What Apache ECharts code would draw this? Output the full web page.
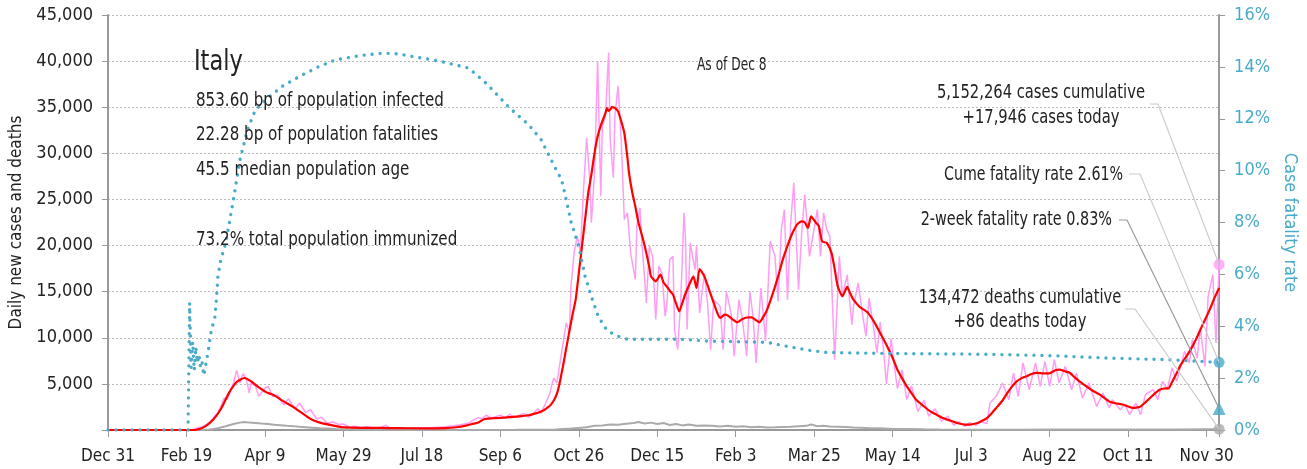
<!DOCTYPE html>
<html>
<head>
<meta charset="utf-8">
<script src="https://cdn.jsdelivr.net/npm/echarts@6/dist/echarts.min.js"></script>
<style>
html, body { margin: 0; padding: 0; background: #fff; }
#chart { width: 1307px; height: 469px; }
</style>
</head>
<body>
<div id="chart"></div>
<script>
// x values are days since Dec 31, 2019
const tickLabels = ['Dec 31', 'Feb 19', 'Apr 9', 'May 29', 'Jul 18', 'Sep 6', 'Oct 26', 'Dec 15',
    'Feb 3', 'Mar 25', 'May 14', 'Jul 3', 'Aug 22', 'Oct 11', 'Nov 30'];
const lastDay = 708;

// daily new cases (pink)
const dailyCases = [[0,0],[53,0],[55,80],[57,230],[59,300],[61,450],[63,600],[65,900],[66,950],[68,1500],[70,1800],
    [71,2200],[73,3000],[74,3470],[76,3300],[78,4300],[80,5100],[82,6460],[84,5100],[86,6100],[88,5600],[90,4000],
    [91,5100],[94,4800],[96,3650],[100,4550],[102,4730],[105,3650],[108,3800],[112,2700],[115,3400],[119,2300],
    [122,2900],[126,1900],[129,2200],[133,1200],[136,1400],[140,700],[143,900],[147,600],[150,650],[154,300],
    [157,400],[161,250],[165,350],[170,200],[174,300],[177,500],[180,200],[185,250],[190,180],[195,220],[200,250],
    [205,250],[210,300],[215,350],[220,450],[224,550],[227,650],[230,750],[233,1100],[236,1350],[238,1200],
    [241,1600],[244,1300],[247,1450],[250,1600],[253,1300],[256,1700],[259,1400],[262,1600],[265,1800],[268,1400],
    [271,1800],[274,2300],[276,1800],[278,2600],[281,3700],[284,5640],[286,5100],[289,8360],[292,11610],[294,10530],
    [295,15590],[297,19210],[299,21020],[301,19210],[303,26090],[305,31690],[307,27170],[308,22470],[310,27890],
    [312,40010],[314,25360],[315,32960],[317,34050],[319,40920],[320,31510],[322,27350],[323,34050],[325,37300],
    [327,31510],[329,22830],[331,23550],[333,19210],[336,16320],[337,22100],[339,24100],[340,20660],[342,16320],
    [343,13780],[345,19940],[347,18850],[349,11980],[351,17770],[353,17040],[355,12340],[356,13420],[358,18490],
    [360,18850],[361,10890],[363,8720],[365,14150],[367,23550],[368,20660],[369,10890],[371,20300],[374,17380],
    [375,19910],[377,12690],[380,17020],[382,13770],[384,8710],[386,14130],[390,13410],[392,8710],[394,15030],
    [397,12690],[399,7990],[402,14130],[404,12330],[407,7990],[409,15030],[411,12330],[413,7270],[416,15390],
    [419,9620],[422,20460],[425,18830],[427,13950],[429,21730],[431,23900],[433,14130],[435,22450],[437,26800],
    [440,15210],[442,21370],[444,25520],[447,18830],[448,18650],[452,23900],[454,18830],[456,23540],[458,21730],
    [460,21010],[463,7630],[466,18830],[468,14490],[471,16840],[474,11420],[475,13410],[478,15940],[481,12330],
    [483,10160],[485,14310],[488,10890],[490,8350],[492,11700],[494,9000],[496,5000],[499,9900],[501,7000],
    [503,4500],[506,6500],[509,3300],[512,4800],[516,2000],[520,3200],[523,1500],[527,2300],[531,950],[535,1500],
    [539,500],[542,900],[546,400],[549,800],[553,500],[556,900],[560,700],[562,2930],[566,3650],[570,5100],
    [574,3290],[577,6180],[580,3650],[583,7270],[587,4370],[591,7270],[594,4730],[597,7440],[600,4730],[603,7620],
    [606,5100],[610,6900],[614,4370],[617,6180],[621,3470],[625,5100],[630,2560],[634,4010],[638,2390],[640,3290],
    [645,2200],[648,2740],[651,1660],[655,2920],[658,1660],[661,3830],[666,4370],[669,3290],[672,5270],[675,4370],
    [678,6720],[681,5270],[686,8530],[689,7270],[691,9790],[694,7800],[696,11060],[699,6900],[701,14490],
    [704,16840],[706,9440],[708,17946]];

// 7-day average of cases (red)
const avgCases = [[0,0],[54,0],[58,100],[62,400],[67,1100],[72,2300],[77,4000],[82,5200],[87,5640],[91,5300],
    [94,4900],[98,4400],[101,4080],[104,3900],[107,3650],[110,3300],[113,3000],[118,2500],[122,2020],[126,1550],
    [130,1120],[135,800],[141,575],[146,400],[151,290],[162,240],[173,220],[185,200],[200,180],[215,200],[222,300],
    [228,470],[232,650],[236,820],[240,1190],[249,1300],[256,1400],[262,1470],[268,1600],[272,1770],[276,2000],
    [279,2300],[282,2700],[285,3500],[287,4500],[290,7000],[293,9800],[296,12500],[298,14130],[300,17000],
    [302,19900],[304,22800],[306,25700],[308,27700],[310,30000],[312,31840],[314,33000],[317,34380],[318,34900],
    [319,34600],[320,34740],[321,35000],[323,34920],[325,34550],[327,33500],[329,32210],[331,29500],[332,27870],
    [334,25800],[336,24250],[338,22500],[341,20640],[343,19200],[345,17600],[346,16660],[349,16120],[352,16840],
    [354,16000],[356,15570],[358,15100],[360,14680],[362,13700],[364,12860],[366,13800],[368,14800],[371,16000],
    [373,16660],[375,15400],[377,17460],[380,16660],[383,15220],[386,13770],[388,12800],[390,12150],[393,12500],
    [395,12400],[398,12000],[401,11670],[404,12000],[407,12200],[410,12210],[413,11900],[415,11670],[418,12400],
    [420,13050],[424,15000],[427,16660],[430,18500],[433,20000],[436,21300],[439,22270],[442,22620],[444,22500],
    [446,21910],[448,23170],[451,22500],[453,22080],[455,20460],[458,20280],[461,19200],[463,17500],[465,15570],
    [468,14490],[471,15510],[473,14800],[475,14130],[479,13340],[484,12750],[488,11780],[492,10520],[496,9250],
    [500,7800],[503,6540],[506,5600],[509,4730],[512,4000],[515,3290],[520,2550],[524,2020],[528,1650],[532,1300],
    [537,1000],[541,760],[547,575],[550,600],[554,760],[557,1000],[560,1300],[563,1800],[566,2390],[570,3200],
    [573,4010],[576,4700],[579,5270],[582,5600],[585,5810],[588,6050],[592,6200],[596,6150],[600,6150],[604,6500],
    [606,6540],[610,6350],[613,6180],[616,5700],[619,5270],[622,4900],[625,4550],[628,4200],[632,3830],[635,3450],
    [638,3100],[642,2900],[647,2740],[650,2550],[653,2390],[656,2450],[658,2560],[661,3000],[664,3470],[667,3950],
    [670,4370],[673,4500],[676,4550],[678,5200],[681,6180],[683,6900],[685,7440],[688,8200],[691,9070],
    [694,10100],[697,11240],[700,12300],[702,13050],[705,14300],[708,15400]];

// daily deaths (gray)
const dailyDeaths = [[0,0],[55,0],[60,10],[65,50],[70,200],[75,400],[80,650],[84,800],[87,870],[90,800],[94,760],
    [98,700],[102,650],[106,580],[110,520],[114,450],[118,420],[122,350],[126,300],[130,250],[135,180],[140,150],
    [145,110],[150,80],[160,60],[170,40],[180,20],[200,10],[230,10],[260,15],[275,25],[285,50],[290,100],
    [295,150],[300,230],[305,300],[310,450],[315,500],[320,600],[325,580],[330,680],[335,750],[338,870],[342,700],
    [346,800],[350,650],[354,750],[358,550],[362,650],[366,500],[370,600],[375,450],[380,500],[385,450],[390,380],
    [395,450],[400,350],[405,400],[410,300],[415,350],[420,280],[425,300],[430,330],[435,350],[440,400],[445,450],
    [448,600],[452,400],[456,450],[460,380],[465,350],[470,320],[475,280],[480,250],[485,200],[490,180],[495,150],
    [500,120],[510,100],[520,70],[530,50],[545,30],[560,30],[580,40],[600,50],[620,60],[640,50],[660,50],[680,60],
    [700,80],[708,86]];

// cumulative case fatality rate, % (teal, right axis)
const fatalityRate = [[0,0],[51,0],[52,4.9],[53,2.4],[54,3.4],[55,2.3],[56,3.2],[57,2.6],[58,2.9],[59,2.4],[60,2.6],
    [61,2.1],[62,2.4],[64,3.1],[66,3.9],[68,4.3],[69,5.0],[70,5.9],[72,6.6],[75,7.2],[80,8.9],[84,10.4],[89,11.6],
    [94,12.35],[101,12.75],[111,13.25],[122,13.63],[134,14.0],[145,14.27],[160,14.43],[175,14.53],[185,14.5],
    [196,14.38],[204,14.3],[215,14.17],[230,13.95],[242,13.31],[255,12.47],[268,11.77],[276,11.19],[285,10.1],
    [289,9.65],[291,9.14],[295,8.04],[300,7.08],[304,5.92],[308,5.15],[312,4.44],[316,4.0],[319,3.8],[325,3.61],
    [331,3.5],[348,3.5],[365,3.5],[382,3.43],[420,3.38],[433,3.22],[448,3.06],[458,2.99],[496,2.95],[560,2.92],
    [604,2.86],[634,2.78],[676,2.71],[708,2.61]];

const casesToday = 17946;
const deathsToday = 86;
const cumeRate = 2.61;
const twoWeekRate = 0.83;

const font = '"DejaVu Sans Condensed", "Liberation Sans Narrow", sans-serif';
const pink = '#ff9cf4';
const teal = '#4aabc8';
const textColor = '#222';

let chart = echarts.init(document.getElementById('chart'));

let option = {
    animation: false,
    grid: { left: 108, right: 82, top: 15, bottom: 39 },
    xAxis: {
        type: 'value',
        min: 0,
        max: lastDay,
        interval: 50,
        splitLine: { show: false },
        axisLine: { lineStyle: { color: '#999', width: 2 } },
        axisTick: { length: 7, lineStyle: { color: '#999' } },
        axisLabel: {
            color: textColor, fontFamily: font, fontSize: 17, margin: 18,
            formatter: v => (v % 50 === 0 ? tickLabels[v / 50] : '')
        }
    },
    yAxis: [{
        type: 'value',
        min: 0, max: 45000, interval: 5000,
        name: 'Daily new cases and deaths',
        nameLocation: 'middle',
        nameGap: 80,
        nameTextStyle: { color: textColor, fontFamily: font, fontSize: 17 },
        axisLine: { show: true, lineStyle: { color: '#999', width: 2 } },
        axisTick: { show: true, length: 6, lineStyle: { color: '#999' } },
        splitLine: { lineStyle: { color: '#bbb', type: [2, 2] } },
        axisLabel: {
            color: textColor, fontFamily: font, fontSize: 18, margin: 15,
            formatter: v => (v === 0 ? '' : v.toLocaleString('en-US'))
        }
    }, {
        type: 'value',
        min: 0, max: 16, interval: 2,
        name: 'Case fatality rate',
        nameLocation: 'middle',
        nameGap: 60,
        nameRotate: -90,
        nameTextStyle: { color: teal, fontFamily: font, fontSize: 18 },
        axisLine: { show: true, lineStyle: { color: '#999', width: 2 } },
        axisTick: { show: true, length: 6, lineStyle: { color: '#999' } },
        splitLine: { show: false },
        axisLabel: {
            color: teal, fontFamily: font, fontSize: 18, margin: 15,
            formatter: '{value}%'
        }
    }],
    series: [
        {
            name: 'deaths', type: 'line', data: dailyDeaths, showSymbol: false,
            lineStyle: { color: '#aaa', width: 2 }
        },
        {
            name: 'cases', type: 'line', data: dailyCases, showSymbol: false,
            lineStyle: { color: pink, width: 1.5 }
        },
        {
            name: 'average', type: 'line', data: avgCases, showSymbol: false, smooth: 0.2,
            lineStyle: { color: '#ff0000', width: 2.2 }
        },
        {
            name: 'rate', type: 'line', yAxisIndex: 1, data: fatalityRate, showSymbol: false,
            lineStyle: { color: teal, width: 3.4, type: [0.01, 8], cap: 'round' }
        },
        {
            type: 'scatter', data: [[lastDay, casesToday]], symbolSize: 11,
            itemStyle: { color: pink }
        },
        {
            type: 'scatter', yAxisIndex: 1, data: [[lastDay, cumeRate]], symbolSize: 11,
            itemStyle: { color: teal }
        },
        {
            type: 'scatter', yAxisIndex: 1, data: [[lastDay, twoWeekRate]], symbol: 'triangle', symbolSize: 13,
            itemStyle: { color: teal }
        },
        {
            type: 'scatter', data: [[lastDay, deathsToday]], symbolSize: 11,
            itemStyle: { color: '#aaa' }
        }
    ]
};
chart.setOption(option);

// text block and leader lines, text squeezed sideways to look like the condensed face
function txt(x, y, text, size, align, sx, color) {
    return {
        type: 'text', x: x, y: y, z: 10, scaleX: sx || 0.82,
        style: {
            text: text, fill: color || textColor, font: size + 'px ' + font,
            align: align || 'left', verticalAlign: 'middle'
        }
    };
}
function leader(points, color) {
    return {
        type: 'polyline', z: 5, silent: true,
        shape: { points: points },
        style: { stroke: color, lineWidth: 1.2, fill: null }
    };
}
let pCases = chart.convertToPixel({ xAxisIndex: 0, yAxisIndex: 0 }, [lastDay, casesToday]);
let pDeaths = chart.convertToPixel({ xAxisIndex: 0, yAxisIndex: 0 }, [lastDay, deathsToday]);
let pCume = chart.convertToPixel({ xAxisIndex: 0, yAxisIndex: 1 }, [lastDay, cumeRate]);
let pTwo = chart.convertToPixel({ xAxisIndex: 0, yAxisIndex: 1 }, [lastDay, twoWeekRate]);

chart.setOption({
    graphic: [
        txt(194, 62, 'Italy', 29, 'left', 0.86),
        txt(196, 101, '853.60 bp of population infected', 20, 'left', 0.84),
        txt(196, 135, '22.28 bp of population fatalities', 20, 'left', 0.84),
        txt(196, 170, '45.5 median population age', 20, 'left', 0.84),
        txt(196, 240, '73.2% total population immunized', 20, 'left', 0.84),
        txt(697, 66, 'As of Dec 8', 17, 'left', 0.8),
        txt(1041, 93, '5,152,264 cases cumulative', 20, 'center'),
        txt(1041, 118, '+17,946 cases today', 20, 'center'),
        txt(1123, 175, 'Cume fatality rate 2.61%', 20, 'right', 0.79),
        txt(1112, 220, '2-week fatality rate 0.83%', 20, 'right', 0.8),
        txt(1020, 298, '134,472 deaths cumulative', 20, 'center'),
        txt(1020, 322, '+86 deaths today', 20, 'center'),
        leader([[1150, 104], [1158, 104], pCases], '#ccc'),
        leader([[1129, 174], [1140, 174], pCume], '#ccc'),
        leader([[1119, 220], [1127, 220], pTwo], '#999'),
        leader([[1125, 309], [1135, 309], pDeaths], '#ccc')
    ]
});
</script>
</body>
</html>
